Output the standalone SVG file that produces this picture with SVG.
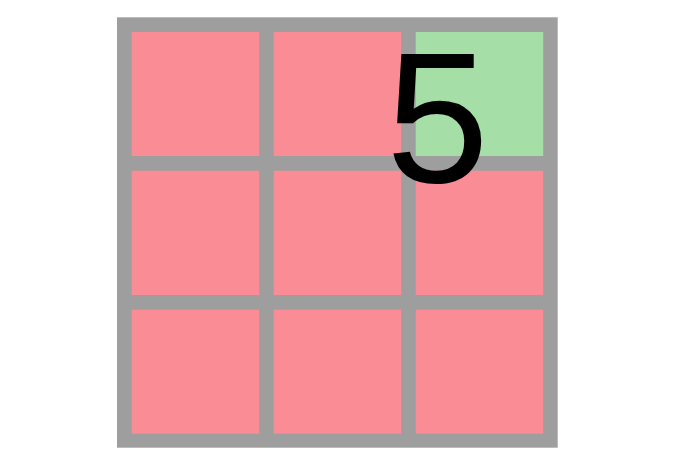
<svg xmlns="http://www.w3.org/2000/svg" width="687" height="469" viewBox="0 0 687 469">
<style>
.bad{fill:#f98c94}
.good{fill:#a5dea7}
.num{font-family:"Liberation Sans",Arial,sans-serif;font-size:185px;fill:#000}
</style>
<rect x="0" y="0" width="687" height="469" fill="#ffffff"/>
<g id="grid">
<rect x="117" y="17.3" width="440.7" height="430.4" fill="#9e9e9e"/>
</g>
<g id="cell-1-1"><rect class="bad" x="131.7" y="32" width="127.5" height="124"/></g>
<g id="cell-1-2"><rect class="bad" x="273.7" y="32" width="127.5" height="124"/></g>
<g id="cell-1-3"><rect class="good" x="415.7" y="32" width="127.5" height="124"/></g>
<g id="cell-2-1"><rect class="bad" x="131.7" y="170.7" width="127.5" height="124.3"/></g>
<g id="cell-2-2"><rect class="bad" x="273.7" y="170.7" width="127.5" height="124.3"/></g>
<g id="cell-2-3"><rect class="bad" x="415.7" y="170.7" width="127.5" height="124.3"/></g>
<g id="cell-3-1"><rect class="bad" x="131.7" y="309.7" width="127.5" height="124"/></g>
<g id="cell-3-2"><rect class="bad" x="273.7" y="309.7" width="127.5" height="124"/></g>
<g id="cell-3-3"><rect class="bad" x="415.7" y="309.7" width="127.5" height="124"/></g>
<g id="label"><text class="num" x="386" y="182">5</text></g>
</svg>
